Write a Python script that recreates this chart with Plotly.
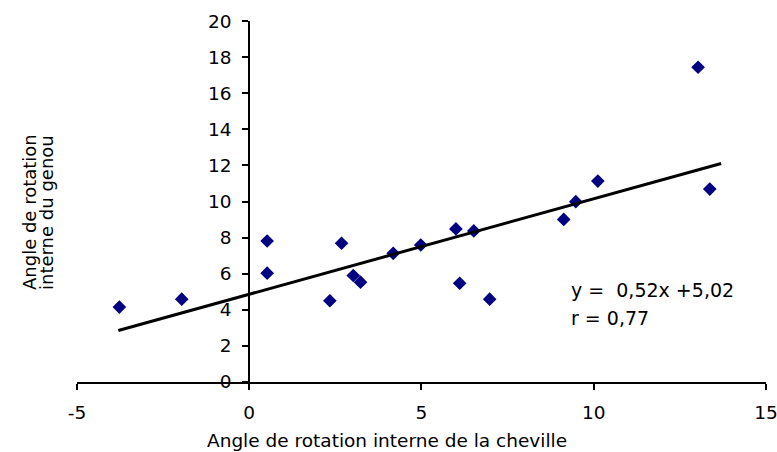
import plotly.graph_objects as go

# Data
ankle_angle = [-3.77, -1.96, 0.52, 0.52, 2.34, 2.68, 3.02, 3.23, 4.18, 4.98,
               6.00, 6.11, 6.52, 6.98, 9.13, 9.48, 10.12, 13.03, 13.37]
knee_angle = [4.15, 4.59, 7.81, 6.03, 4.50, 7.69, 5.90, 5.53, 7.13, 7.59,
              8.48, 5.47, 8.37, 4.59, 9.01, 9.99, 11.13, 17.44, 10.69]

trend_x = [-3.8, 13.7]
trend_y = [2.85, 12.11]

x_ticks = [-5, 0, 5, 10, 15]
y_ticks = [0, 2, 4, 6, 8, 10, 12, 14, 16, 18, 20]

x_title = "Angle de rotation interne de la cheville"
y_title_lines = ["Angle de rotation", "interne du genou"]
equation_lines = ["y =  0,52x +5,02", "r = 0,77"]

FONT = "DejaVu Sans"

fig = go.Figure()
fig.add_trace(go.Scatter(
    x=ankle_angle, y=knee_angle, mode="markers",
    marker=dict(symbol="diamond", size=10.5, color="#000080", line=dict(width=0)),
    showlegend=False, hoverinfo="skip"))
fig.add_trace(go.Scatter(
    x=trend_x, y=trend_y, mode="lines",
    line=dict(color="black", width=3),
    showlegend=False, hoverinfo="skip"))

L, R, T, B = 77, 11, 21, 70
W, H = 777, 452
pw = W - L - R
ph = H - T - B


def px_to_paper_x(px):
    return (px - L) / pw


def py_to_paper_y(py):
    return (H - B - py) / ph


fig.update_layout(
    width=W, height=H,
    margin=dict(l=L, r=R, t=T, b=B, autoexpand=False),
    paper_bgcolor="white", plot_bgcolor="white",
    font=dict(family=FONT, size=18.5, color="black"),
    xaxis=dict(
        range=[-5, 15.002], tickvals=x_ticks, ticktext=[str(v) for v in x_ticks],
        showline=True, linecolor="black", linewidth=2,
        ticks="outside", ticklen=6, tickwidth=2, tickcolor="black",
        showgrid=False, zeroline=False, automargin=False,
        tickfont=dict(family=FONT, size=18.5, color="black"),
        ticklabelstandoff=7, ticklabeloverflow="allow",
    ),
    yaxis=dict(
        range=[0, 20.002], tickvals=y_ticks, ticktext=[str(v) for v in y_ticks],
        anchor="free", position=0.25,
        showline=True, linecolor="black", linewidth=2,
        ticks="outside", ticklen=6, tickwidth=2, tickcolor="black",
        showgrid=False, zeroline=False, automargin=False,
        tickfont=dict(family=FONT, size=18.5, color="black"),
        ticklabelstandoff=7, ticklabeloverflow="allow",
    ),
)

annotations = [
    dict(text=x_title, xref="paper", yref="paper",
         x=px_to_paper_x(387), y=py_to_paper_y(440),
         xanchor="center", yanchor="middle", showarrow=False,
         font=dict(family=FONT, size=18.5, color="black")),
    dict(text=y_title_lines[0], xref="paper", yref="paper",
         x=px_to_paper_x(29), y=py_to_paper_y(212), textangle=-90,
         xanchor="center", yanchor="middle", showarrow=False,
         font=dict(family=FONT, size=18, color="black")),
    dict(text=y_title_lines[1], xref="paper", yref="paper",
         x=px_to_paper_x(46), y=py_to_paper_y(213), textangle=-90,
         xanchor="center", yanchor="middle", showarrow=False,
         font=dict(family=FONT, size=18, color="black")),
    dict(text=equation_lines[0], xref="paper", yref="paper",
         x=px_to_paper_x(569), y=py_to_paper_y(290),
         xanchor="left", yanchor="middle", showarrow=False,
         font=dict(family=FONT, size=19, color="black")),
    dict(text=equation_lines[1], xref="paper", yref="paper",
         x=px_to_paper_x(569), y=py_to_paper_y(318),
         xanchor="left", yanchor="middle", showarrow=False,
         font=dict(family=FONT, size=19, color="black")),
]
fig.update_layout(annotations=annotations)

fig.write_html(
    "out.html",
    config={"displayModeBar": False, "staticPlot": True},
    post_script="document.body.style.margin='0';document.body.style.padding='0';"
                "document.documentElement.style.overflow='hidden';",
)
